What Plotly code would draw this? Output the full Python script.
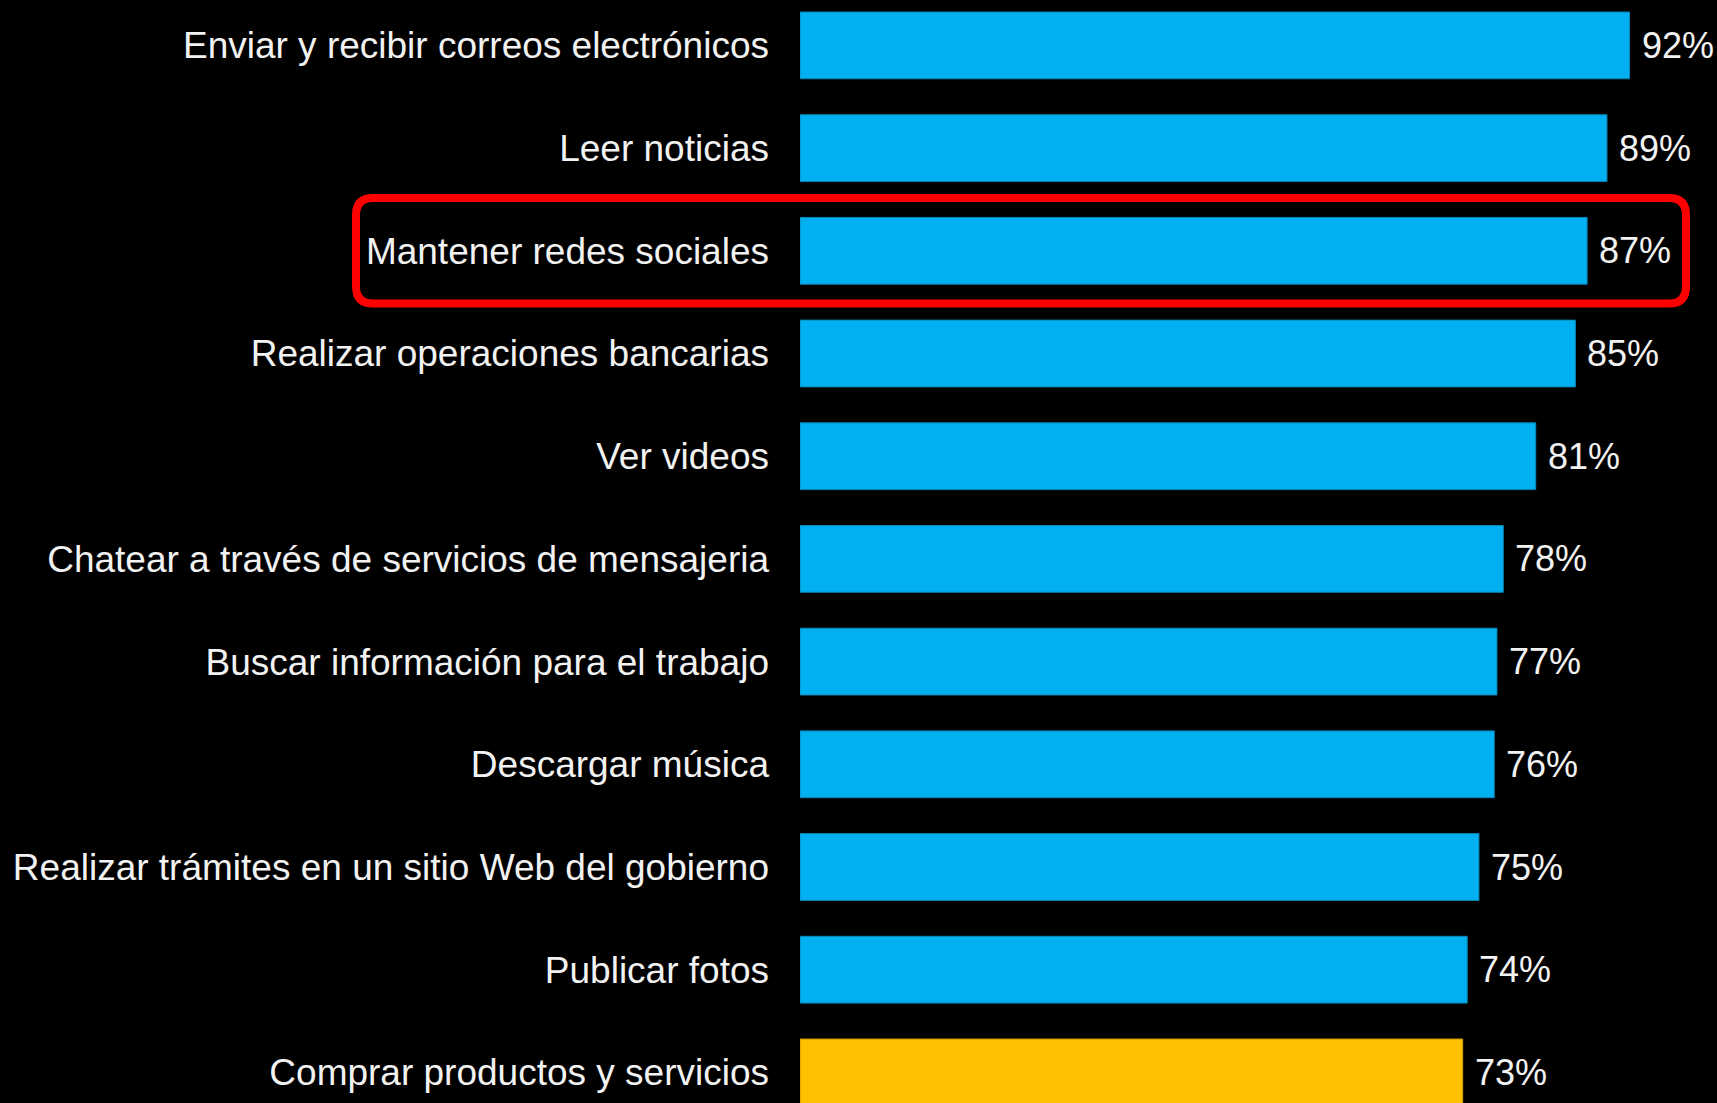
import plotly.graph_objects as go

categories = [
    "Enviar y recibir correos electrónicos",
    "Leer noticias",
    "Mantener redes sociales",
    "Realizar operaciones bancarias",
    "Ver videos",
    "Chatear a través de servicios de mensajeria",
    "Buscar información para el trabajo",
    "Descargar música",
    "Realizar trámites en un sitio Web del gobierno",
    "Publicar fotos",
    "Comprar productos y servicios",
]
# bar lengths (percent)
values = [92.0, 89.5, 87.3, 86.0, 81.6, 78.0, 77.3, 77.0, 75.3, 74.0, 73.5]
value_labels = ["92%", "89%", "87%", "85%", "81%", "78%", "77%", "76%", "75%", "74%", "73%"]
highlight = "Comprar productos y servicios"
boxed = "Mantener redes sociales"

BLUE = "#00B0F0"
YELLOW = "#FFC000"
FONT = "Liberation Sans, Arial, sans-serif"

colors = [YELLOW if c == highlight else BLUE for c in categories]
edge = ["#C99700" if c == highlight else "#0a86b6" for c in categories]

fig = go.Figure()
fig.add_trace(go.Bar(
    x=values,
    y=categories,
    orientation="h",
    marker=dict(color=colors, line=dict(color=edge, width=1)),
    hoverinfo="skip",
))

for c, v, t in zip(categories, values, value_labels):
    fig.add_annotation(
        x=v, y=c, xref="x", yref="y", text=t, showarrow=False,
        xanchor="left", yanchor="middle", xshift=10,
        font=dict(family=FONT, size=36, color="#F2F2F2"),
    )

# rounded red highlight box around the boxed category (pixel-based geometry -> paper coords)
W, H = 1717, 1103
L = 800
pw = W - L
idx = categories.index(boxed)
pitch = 102.7
y0c = 45.4
cy = y0c + idx * pitch
left_px, right_px = 356, 1686
top_px, bot_px = cy - 52.7, cy + 52.7
r = 17

def px(xp):
    return (xp - L) / pw

def py(yp):
    return 1 - yp / H

path = (
    f"M {px(left_px + r)},{py(top_px)} "
    f"L {px(right_px - r)},{py(top_px)} "
    f"Q {px(right_px)},{py(top_px)} {px(right_px)},{py(top_px + r)} "
    f"L {px(right_px)},{py(bot_px - r)} "
    f"Q {px(right_px)},{py(bot_px)} {px(right_px - r)},{py(bot_px)} "
    f"L {px(left_px + r)},{py(bot_px)} "
    f"Q {px(left_px)},{py(bot_px)} {px(left_px)},{py(bot_px - r)} "
    f"L {px(left_px)},{py(top_px + r)} "
    f"Q {px(left_px)},{py(top_px)} {px(left_px + r)},{py(top_px)} Z"
)
fig.add_shape(type="path", path=path, xref="paper", yref="paper",
              line=dict(color="#FF0000", width=8), fillcolor="rgba(0,0,0,0)", layer="above")

fig.update_layout(
    width=W, height=H,
    margin=dict(l=L, r=0, t=0, b=0, autoexpand=False),
    paper_bgcolor="black",
    plot_bgcolor="black",
    bargap=0.35,
    showlegend=False,
    xaxis=dict(range=[0, pw / 9.0163], visible=False, fixedrange=True),
    yaxis=dict(
        type="category",
        categoryorder="array",
        categoryarray=categories,
        range=[(H - y0c) / pitch, -y0c / pitch],
        showgrid=False, zeroline=False, showline=False, ticks="",
        ticklabelstandoff=30,
        tickfont=dict(family=FONT, size=37, color="#F2F2F2"),
        automargin=False,
        fixedrange=True,
    ),
)

fig.write_html(
    "out.html",
    config={"displayModeBar": False},
    post_script="document.body.style.margin='0';document.body.style.padding='0';"
                "document.body.style.background='black';document.body.style.overflow='hidden';",
)
